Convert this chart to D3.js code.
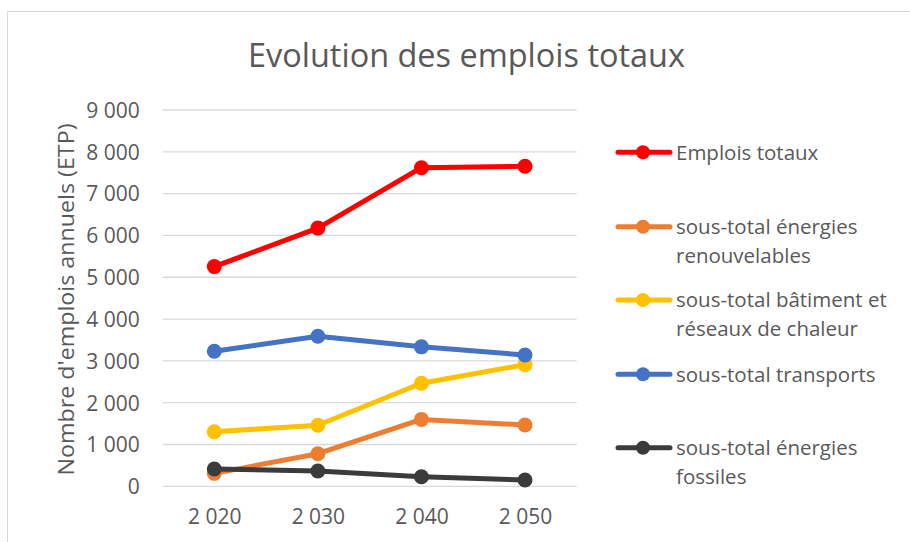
<!DOCTYPE html>
<html><head><meta charset="utf-8">
<script src="https://cdn.jsdelivr.net/npm/d3@7"></script>
<style>body{margin:0;background:#fff;} text{font-family:"Open Sans",sans-serif;fill:#595959;}</style>
</head><body>
<svg id="c" width="910" height="542"></svg>
<script>
const years = ["2 020", "2 030", "2 040", "2 050"];
const yTicks = [0, 1000, 2000, 3000, 4000, 5000, 6000, 7000, 8000, 9000];
const seriesNames = [["Emplois totaux"], ["sous-total énergies", "renouvelables"], ["sous-total bâtiment et", "réseaux de chaleur"], ["sous-total transports"], ["sous-total énergies", "fossiles"]];
const seriesColors = ["#FF0000", "#ED7D31", "#FFC000", "#4472C4", "#3B3B3B"];
const emploisTotaux = [5255, 6175, 7620, 7655];
const energiesRenouvelables = [310, 780, 1600, 1465];
const batimentReseaux = [1305, 1460, 2465, 2910];
const transports = [3230, 3590, 3335, 3140];
const energiesFossiles = [415, 365, 230, 150];
const series = [emploisTotaux, energiesRenouvelables, batimentReseaux, transports, energiesFossiles];

const svg = d3.select("#c");
svg.append("rect").attr("x", 7.5).attr("y", 11.5).attr("width", 920).attr("height", 560)
  .attr("fill", "#fff").attr("stroke", "#d9d9d9").attr("stroke-width", 1);

const x = d3.scalePoint().domain(years).range([214.3, 525]);
const y = d3.scaleLinear().domain([0, 9000]).range([486.3, 110]);
const gx0 = 162.7, gx1 = 576.7;

// gridlines
svg.append("g").selectAll("line").data(yTicks).join("line")
  .attr("x1", gx0).attr("x2", gx1).attr("y1", d => y(d)).attr("y2", d => y(d))
  .attr("stroke", "#d9d9d9").attr("stroke-width", 1.3);

const fmt = d => d3.format(",")(d).replace(/,/g, " ");
// y axis
const ya = svg.append("g").attr("transform", `translate(${gx0},0)`)
  .call(d3.axisLeft(y).tickValues(yTicks).tickFormat(fmt).tickSize(0).tickPadding(23));
ya.select(".domain").remove();
ya.selectAll("text").attr("font-size", 21).attr("font-family", "Open Sans").attr("fill", "#595959").attr("dy", "0.35em");

// x axis
const xa = svg.append("g").attr("transform", `translate(0,${y(0)})`)
  .call(d3.axisBottom(x).tickSize(0).tickPadding(23));
xa.select(".domain").remove();
xa.selectAll("text").attr("font-size", 21).attr("font-family", "Open Sans").attr("fill", "#595959").attr("dy", "0.7em");

// lines
const line = d3.line().x((d, i) => x(years[i])).y(d => y(d));
series.forEach((s, k) => {
  const g = svg.append("g");
  g.append("path").attr("d", line(s)).attr("fill", "none").attr("stroke", seriesColors[k])
    .attr("stroke-width", 5).attr("stroke-linejoin", "round").attr("stroke-linecap", "round");
  g.selectAll("circle").data(s).join("circle")
    .attr("cx", (d, i) => x(years[i])).attr("cy", d => y(d)).attr("r", 7.5).attr("fill", seriesColors[k]);
});

// title
svg.append("text").attr("x", 466.5).attr("y", 66.5).attr("text-anchor", "middle")
  .attr("font-size", 32).attr("textLength", 437).attr("lengthAdjust", "spacingAndGlyphs")
  .text("Evolution des emplois totaux");

// y axis title
svg.append("text").attr("transform", `translate(74,299.5) rotate(-90)`).attr("text-anchor", "middle")
  .attr("font-size", 22).attr("textLength", 352).attr("lengthAdjust", "spacingAndGlyphs")
  .text("Nombre d'emplois annuels (ETP)");

// legend
const legY = [152.3, 226.7, 300, 374.3, 447.7];
seriesNames.forEach((lines, k) => {
  const g = svg.append("g").attr("transform", `translate(0,${legY[k]})`);
  g.append("line").attr("x1", 618).attr("x2", 670).attr("y1", 0).attr("y2", 0)
    .attr("stroke", seriesColors[k]).attr("stroke-width", 5).attr("stroke-linecap", "round");
  g.append("circle").attr("cx", 643).attr("cy", 0).attr("r", 7).attr("fill", seriesColors[k]);
  lines.forEach((t, j) => {
    g.append("text").attr("x", 676).attr("y", 7.3 + j * 28.8).attr("font-size", 20.5).text(t);
  });
});
</script>
</body></html>
